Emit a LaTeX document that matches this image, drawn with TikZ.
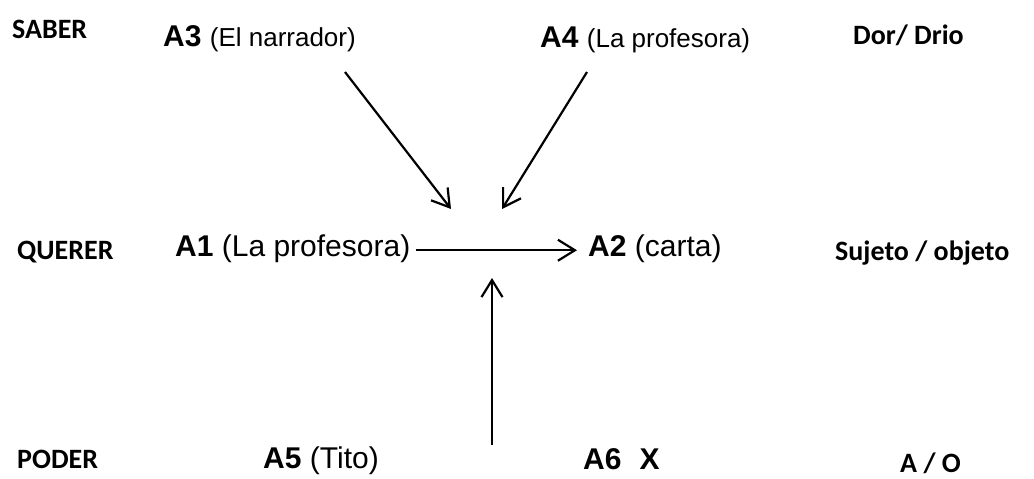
\documentclass[tikz,border=0pt]{standalone}
\usepackage{fontspec}
\setmainfont{Liberation Sans}
\newfontfamily\carlito{Carlito}
\usetikzlibrary{arrows.meta}
\begin{document}
\begin{tikzpicture}[x=1pt,y=-1pt,
  lbl/.style={inner sep=0pt, anchor=base west, font=\carlito\bfseries\fontsize{28}{34}\selectfont},
  act/.style={inner sep=0pt, anchor=base west, font=\fontsize{30}{36}\selectfont},
  arr/.style={line width=2.2pt, -{Straight Barb[length=17pt,width=21pt]}}]
\useasboundingbox (0,0) rectangle (1034,479);
% row labels
\node[lbl] (saber) at (12,38) {SABER};
\node[lbl] (querer) at (17,259) {QUERER};
\node[lbl] (poder) at (17,468) {PODER};
% column labels
\node[lbl] (dor) at (853,45) {Dor/ Drio};
\node[lbl] (suj) at (835,260) {Sujeto / objeto};
\node[lbl] (ao) at (900,472) {A / O};
% actants
\node[act] (a3) at (163,46) {\textbf{A3} {\fontsize{26}{31}\selectfont(El narrador)}};
\node[act] (a4) at (540,47) {\textbf{A4} {\fontsize{26}{31}\selectfont(La profesora)}};
\node[act] (a1) at (175,256) {\textbf{A1} (La profesora)};
\node[act] (a2) at (588,256) {\textbf{A2} (carta)};
\node[act] (a5) at (263,468) {\textbf{A5} (Tito)};
\node[act] (a6) at (583,469) {\textbf{A6}\hspace{18pt}\textbf{X}};
% connector ends
\coordinate (s3) at (345,72);
\coordinate (t3) at (451,209);
\coordinate (s4) at (587,72);
\coordinate (t4) at (502,209);
\coordinate (s5) at (492,445);
\coordinate (t5) at (492,278);
\coordinate (h1) at ([xshift=5pt,yshift=-2pt]a1.east);
% connectors
\draw[arr] (s3) -- (t3);
\draw[arr] (s4) -- (t4);
\draw[arr, shorten >=11pt] (h1) -- (a2.west |- h1);
\draw[arr] (s5) -- (t5);
\end{tikzpicture}
\end{document}
